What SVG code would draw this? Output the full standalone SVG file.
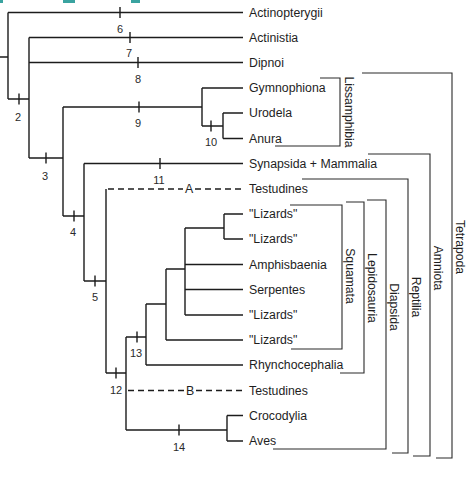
<svg xmlns="http://www.w3.org/2000/svg" width="474" height="484" viewBox="0 0 474 484">
<style>
.t{fill:none;stroke:#1c1c1c;stroke-width:1.4}
.d{fill:none;stroke:#1c1c1c;stroke-width:1.4;stroke-dasharray:6 4}
.b{fill:none;stroke:#2a2a2a;stroke-width:1.1}
.lab{font-family:"Liberation Sans",Arial,sans-serif;font-size:12.3px;fill:#1e1e1e}
.num{font-family:"Liberation Sans",Arial,sans-serif;font-size:11px;fill:#2a2a2a;text-anchor:middle}
.rot{font-family:"Liberation Sans",Arial,sans-serif;font-size:12.2px;fill:#1e1e1e;text-anchor:middle;dominant-baseline:central}
</style>
<rect width="474" height="484" fill="#ffffff"/>
<g id="header-fragments" fill="#3aa3a0">
<rect x="0" y="0" width="3" height="3"/>
<rect x="63" y="0" width="12" height="3"/>
<rect x="131" y="0" width="9" height="3"/>
</g>
<g id="connectors">
<!-- root -->
<path class="t" d="M0,57 H8 M8,12.5 V99 M8,12.5 H243 M8,99 H29"/>
<!-- node 2 -->
<path class="t" d="M29,37.5 V158 M29,37.5 H243 M29,62.5 H243 M29,158 H63"/>
<!-- node 3 -->
<path class="t" d="M63,107 V216 M63,107 H202 M63,216 H84"/>
<!-- Lissamphibia -->
<path class="t" d="M202,88 V126 M202,88 H243 M202,126 H223 M223,113 V138.5 M223,113 H243 M223,138.5 H243"/>
<!-- node 4 -->
<path class="t" d="M84,163.5 V281 M84,163.5 H243 M84,281 H106"/>
<!-- node 5 -->
<path class="t" d="M106,189 V373 M106,373 H126"/>
<path class="d" d="M108,189 H183 M195,189 H243"/>
<!-- node 12 -->
<path class="t" d="M126,337 V430 M126,337 H146 M126,430 H227 M227,415.5 V441 M227,415.5 H243 M227,441 H243"/>
<path class="d" d="M128,390.5 H184 M196,390.5 H243"/>
<!-- node 13 -->
<path class="t" d="M146,304 V365 M146,304 H166 M146,365 H243"/>
<path class="t" d="M166,269 V340 M166,269 H185 M166,340 H243"/>
<path class="t" d="M185,228 V315 M185,228 H224 M185,264.5 H243 M185,289.5 H243 M185,315 H243"/>
<path class="t" d="M224,214 V239 M224,214 H243 M224,239 H243"/>
<!-- ticks -->
<path class="t" d="M120,7 V18 M130,32 V43 M138,57 V68 M19,93.5 V104.5 M139,101.5 V112.5 M211,120.5 V131.5 M46,152.5 V163.5 M74,210.5 V221.5 M160,158 V169 M95,275.5 V286.5 M137,331.5 V342.5 M116,367.5 V378.5 M179,424.5 V435.5"/>
</g>
<g id="tick-labels">
<text class="num" x="120" y="33">6</text>
<text class="num" x="129" y="57">7</text>
<text class="num" x="138" y="83">8</text>
<text class="num" x="18" y="121">2</text>
<text class="num" x="138" y="127">9</text>
<text class="num" x="211" y="146">10</text>
<text class="num" x="45" y="180">3</text>
<text class="num" x="73" y="236">4</text>
<text class="num" x="159" y="184">11</text>
<text class="num" x="95" y="301">5</text>
<text class="num" x="136" y="357">13</text>
<text class="num" x="116" y="394">12</text>
<text class="num" x="179" y="451">14</text>
<text class="lab" x="189" y="193.3" text-anchor="middle">A</text>
<text class="lab" x="190" y="394.8" text-anchor="middle">B</text>
</g>
<g id="leaf-actinopterygii"><text class="lab" x="249" y="16.8">Actinopterygii</text></g>
<g id="leaf-actinistia"><text class="lab" x="249" y="41.8">Actinistia</text></g>
<g id="leaf-dipnoi"><text class="lab" x="249" y="66.8">Dipnoi</text></g>
<g id="leaf-gymnophiona"><text class="lab" x="249" y="92.3">Gymnophiona</text></g>
<g id="leaf-urodela"><text class="lab" x="249" y="117.3">Urodela</text></g>
<g id="leaf-anura"><text class="lab" x="249" y="142.8">Anura</text></g>
<g id="leaf-synapsida"><text class="lab" x="249" y="167.8">Synapsida + Mammalia</text></g>
<g id="leaf-testudines-a"><text class="lab" x="249" y="193.3">Testudines</text></g>
<g id="leaf-lizards-1"><text class="lab" x="249" y="218.3">"Lizards"</text></g>
<g id="leaf-lizards-2"><text class="lab" x="249" y="243.3">"Lizards"</text></g>
<g id="leaf-amphisbaenia"><text class="lab" x="249" y="268.8">Amphisbaenia</text></g>
<g id="leaf-serpentes"><text class="lab" x="249" y="293.8">Serpentes</text></g>
<g id="leaf-lizards-3"><text class="lab" x="249" y="319.3">"Lizards"</text></g>
<g id="leaf-lizards-4"><text class="lab" x="249" y="344.3">"Lizards"</text></g>
<g id="leaf-rhynchocephalia"><text class="lab" x="249" y="369.3">Rhynchocephalia</text></g>
<g id="leaf-testudines-b"><text class="lab" x="249" y="394.8">Testudines</text></g>
<g id="leaf-crocodylia"><text class="lab" x="249" y="419.8">Crocodylia</text></g>
<g id="leaf-aves"><text class="lab" x="249" y="445.3">Aves</text></g>
<g id="clade-lissamphibia"><path class="b" d="M320,78 H340 V146 H275"/><text class="rot" transform="translate(349,112) rotate(90)">Lissamphibia</text></g>
<g id="clade-squamata"><path class="b" d="M290,205 H342 V349 H291"/><text class="rot" transform="translate(350,276) rotate(90)">Squamata</text></g>
<g id="clade-lepidosauria"><path class="b" d="M346,202 H364 V373 H340"/><text class="rot" transform="translate(372,288) rotate(90)">Lepidosauria</text></g>
<g id="clade-diapsida"><path class="b" d="M367,200 H386 V449 H273"/><text class="rot" transform="translate(394,307) rotate(90)">Diapsida</text></g>
<g id="clade-reptilia"><path class="b" d="M302,179 H408 V453 H392"/><text class="rot" transform="translate(416,297) rotate(90)">Reptilia</text></g>
<g id="clade-amniota"><path class="b" d="M368,154 H430 V456 H413"/><text class="rot" transform="translate(438,268) rotate(90)">Amniota</text></g>
<g id="clade-tetrapoda"><path class="b" d="M362,73 H452 V458 H436"/><text class="rot" transform="translate(460,247) rotate(90)">Tetrapoda</text></g>
</svg>
